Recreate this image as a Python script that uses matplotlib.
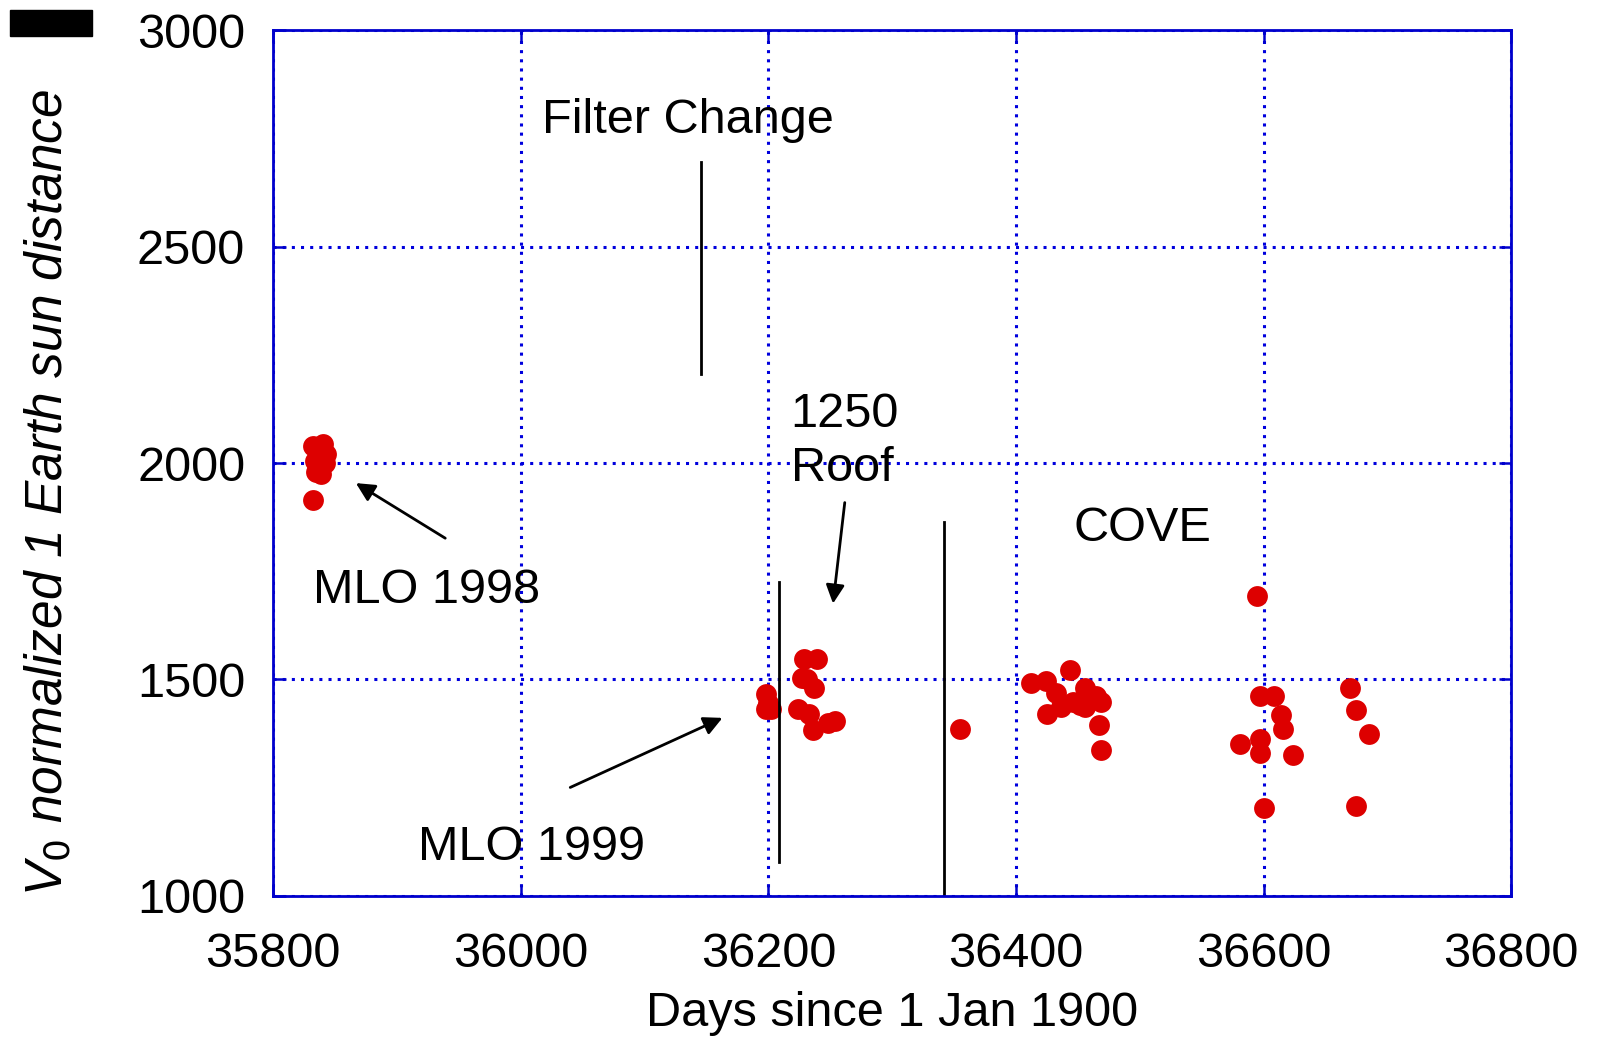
import matplotlib.pyplot as plt
from matplotlib.patches import Rectangle

plt.rcParams['font.family'] = ['Liberation Sans', 'DejaVu Sans']

# MLO 1998
mlo98_day = [35832, 35836, 35840, 35843, 35834, 35838, 35842, 35835, 35839, 35832]
mlo98_val = [2040, 2030, 2045, 2020, 2005, 1995, 2000, 1980, 1975, 1915]

# MLO 1999 / 1250 roof
mlo99_day = [36198, 36198, 36200, 36202, 36229, 36239, 36227, 36237, 36224, 36233, 36236, 36248, 36254, 36231]
mlo99_val = [1466, 1433, 1445, 1432, 1548, 1548, 1504, 1480, 1433, 1421, 1383, 1400, 1404, 1500]

# COVE
cove_day = [36355, 36412, 36424, 36432, 36444, 36425, 36436, 36446, 36456, 36456, 36465, 36469, 36467, 36469, 36452,
            36595, 36597, 36608, 36614, 36616, 36597, 36581, 36597, 36624, 36600,
            36670, 36675, 36685, 36675]
cove_val = [1385, 1492, 1497, 1468, 1522, 1421, 1437, 1449, 1480, 1437, 1461, 1449, 1395, 1336, 1442,
            1693, 1461, 1461, 1419, 1385, 1362, 1350, 1331, 1326, 1203,
            1480, 1430, 1374, 1208]

days = mlo98_day + mlo99_day + cove_day
vals = mlo98_val + mlo99_val + cove_val

fig = plt.figure(figsize=(16.06, 10.37), dpi=100)
ax = fig.add_axes([0.170, 0.136, 0.771, 0.835])

ax.plot(days, vals, 'o', color='#dd0000', markersize=15, markeredgewidth=0)

ax.set_xlim(35800, 36800)
ax.set_ylim(1000, 3000)
ax.set_xticks([35800, 36000, 36200, 36400, 36600, 36800])
ax.set_yticks([1000, 1500, 2000, 2500, 3000])
ax.grid(True, color='#0000dd', linestyle=(0, (1, 2)), linewidth=2.2)
for s in ax.spines.values():
    s.set_color('#0000cc')
    s.set_linewidth(2)
ax.tick_params(direction='in', length=9, color='#0000cc', width=1.8,
               top=True, right=True, labelsize=35)
ax.tick_params(axis='x', pad=26)
ax.tick_params(axis='y', pad=20)
ax.set_xlabel('Days since 1 Jan 1900', fontsize=35, labelpad=10)

fs = 35
arrow = dict(arrowstyle='-|>', color='black', lw=2, mutation_scale=28)
ax.text(36135, 2790, 'Filter Change', fontsize=fs, ha='center', va='center')
ax.plot([36146, 36146], [2695, 2206], color='black', lw=2)
ax.text(36218, 1935, '1250\nRoof', fontsize=fs, ha='left', va='bottom', linespacing=1.25)
ax.annotate('', xy=(36252, 1669), xytext=(36262, 1915), arrowprops=arrow)
ax.plot([36209, 36209], [1726, 1078], color='black', lw=2)
ax.plot([36342, 36342], [1863, 1000], color='black', lw=2)
ax.text(36502, 1849, 'COVE', fontsize=fs, ha='center', va='center')
ax.text(35924, 1705, 'MLO 1998', fontsize=fs, ha='center', va='center')
ax.annotate('', xy=(35865, 1957), xytext=(35941, 1823), arrowprops=arrow)
ax.text(36009, 1111, 'MLO 1999', fontsize=fs, ha='center', va='center')
ax.annotate('', xy=(36165, 1414), xytext=(36038, 1248), arrowprops=arrow)

# scanned y label
fig.text(0.03, 0.525, 'V$_0$ normalized 1 Earth sun distance', rotation=90, fontsize=37,
         style='italic', ha='center', va='center')
fig.patches.append(Rectangle((10 / 1606, 1 - 36 / 1037), 82 / 1606, 26 / 1037,
                             transform=fig.transFigure, color='black'))

plt.savefig('out.png', dpi=100)
